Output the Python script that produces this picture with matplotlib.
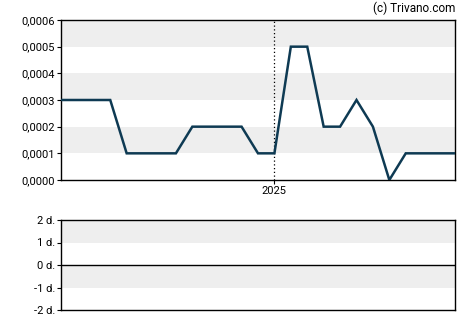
import matplotlib

matplotlib.use("Agg")
import matplotlib.pyplot as plt
from matplotlib.ticker import FuncFormatter

plt.rcParams["font.family"] = ["Roboto", "DejaVu Sans"]

# monthly values, index 13 is January 2025
prices = [
    0.0003, 0.0003, 0.0003, 0.0003,
    0.0001, 0.0001, 0.0001, 0.0001,
    0.0002, 0.0002, 0.0002, 0.0002,
    0.0001, 0.0001,
    0.0005, 0.0005,
    0.0002, 0.0002,
    0.0003, 0.0002,
    0.0000,
    0.0001, 0.0001, 0.0001, 0.0001,
]
year_index = 13
year_label = "2025"
price_ticks = [0.0, 0.0001, 0.0002, 0.0003, 0.0004, 0.0005, 0.0006]
lower_ticks = [-2, -1, 0, 1, 2]

line_color = "#0e3a53"
band_color = "#eeeeee"
W, H = 470, 325

fig = plt.figure(figsize=(W / 100, H / 100), dpi=100)
ax = fig.add_axes([61 / W, (H - 180) / H, 394 / W, 160 / H])
ax2 = fig.add_axes([61 / W, (H - 310) / H, 394 / W, 90 / H])

x = list(range(len(prices)))
ax.set_xlim(0, len(prices) - 1)
ax.set_ylim(price_ticks[0], price_ticks[-1])
for lo, hi in zip(price_ticks[1::2], price_ticks[2::2]):
    ax.axhspan(lo, hi, color=band_color, lw=0, zorder=0)
ax.axvline(year_index, color="black", lw=0.9, ls=(0, (1, 2)), zorder=1)
ax.plot(x, prices, color=line_color, lw=1.8, zorder=3, solid_joinstyle="miter")
ax.set_yticks(price_ticks)
ax.yaxis.set_major_formatter(FuncFormatter(lambda v, _: f"{v:.4f}".replace(".", ",")))
ax.set_xticks([year_index], [year_label])
ax.text(1.0, 1.03, "(c) Trivano.com", transform=ax.transAxes, ha="right",
        va="bottom", fontsize=8.5)

ax2.set_xlim(0, len(prices) - 1)
ax2.set_ylim(lower_ticks[0], lower_ticks[-1])
for lo, hi in [(-1, 0), (1, 2)]:
    ax2.axhspan(lo, hi, color=band_color, lw=0, zorder=0)
ax2.axhline(0, color="black", lw=1.0)
ax2.set_yticks(lower_ticks, [f"{t} d." for t in lower_ticks])
ax2.set_xticks([])

for a in (ax, ax2):
    for s in a.spines.values():
        s.set_linewidth(1.0)
    a.tick_params(labelsize=8, length=3, width=0.8, pad=1.5, colors="black")

fig.savefig("out.png", dpi=100, facecolor="white")
